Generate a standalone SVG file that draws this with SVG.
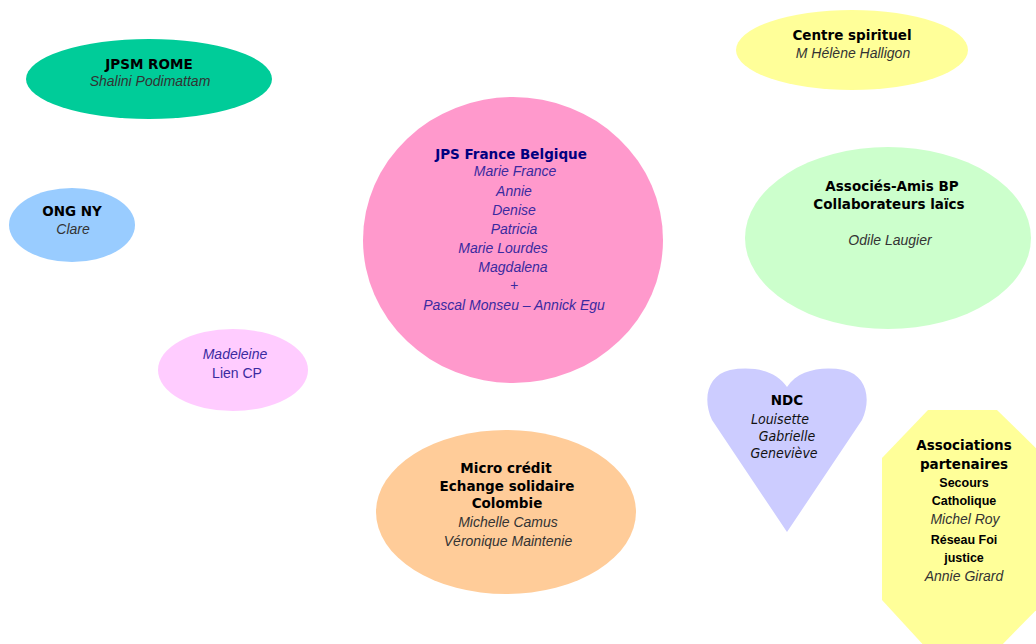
<svg xmlns="http://www.w3.org/2000/svg" width="1036" height="644" viewBox="0 0 1036 644">
<style>
text{text-anchor:middle;font-size:14px}
.b{font-family:"DejaVu Sans","Liberation Sans",sans-serif;font-weight:bold;font-size:13.5px;fill:#000}
.i{font-family:"Liberation Sans",sans-serif;font-style:italic;fill:#333}
.p{fill:#3a2aa0}
.h{font-family:"Liberation Sans",sans-serif;font-weight:bold;font-size:12.5px;fill:#000}
.k{font-family:"DejaVu Sans Condensed","Liberation Sans",sans-serif;font-style:italic;fill:#111;font-size:14px}
</style>
<rect width="1036" height="644" fill="#fff"/>
<g id="connectors"></g>
<g id="jpsm-rome">
<ellipse cx="149" cy="79" rx="123" ry="40" fill="#00CC99"/>
<text class="b" x="149" y="69">JPSM ROME</text>
<text class="i" x="150" y="86">Shalini Podimattam</text>
</g>
<g id="centre-spirituel">
<ellipse cx="852" cy="50" rx="116" ry="40" fill="#FFFF99"/>
<text class="b" x="852" y="40">Centre spirituel</text>
<text class="i" x="853" y="58">M Hélène Halligon</text>
</g>
<g id="ong-ny">
<ellipse cx="72" cy="225" rx="63" ry="37" fill="#99CCFF"/>
<text class="b" x="72" y="216">ONG NY</text>
<text class="i" x="73" y="234">Clare</text>
</g>
<g id="jps-france-belgique">
<ellipse cx="513" cy="240" rx="150" ry="143" fill="#FF99CC"/>
<text class="b" x="511" y="159" style="fill:#000080">JPS France Belgique</text>
<text class="i p" x="515" y="176">Marie France</text>
<text class="i p" x="514" y="196">Annie</text>
<text class="i p" x="514" y="215">Denise</text>
<text class="i p" x="514" y="234">Patricia</text>
<text class="i p" x="503" y="253">Marie Lourdes</text>
<text class="i p" x="513" y="272">Magdalena</text>
<text class="i p" x="514" y="290">+</text>
<text class="i p" x="514" y="310">Pascal Monseu – Annick Egu</text>
</g>
<g id="associes-amis">
<ellipse cx="888" cy="238" rx="143" ry="91" fill="#CCFFCC"/>
<text class="b" x="892" y="191">Associés-Amis BP</text>
<text class="b" x="889" y="209">Collaborateurs laïcs</text>
<text class="i" x="890" y="245">Odile Laugier</text>
</g>
<g id="madeleine">
<ellipse cx="233" cy="370" rx="75" ry="41" fill="#FFCCFF"/>
<text class="i p" x="235" y="359">Madeleine</text>
<text x="237" y="378" style="font-family:'Liberation Sans',sans-serif;fill:#3a2aa0">Lien CP</text>
</g>
<g id="micro-credit">
<ellipse cx="506" cy="512" rx="130" ry="82" fill="#FFCC99"/>
<text class="b" x="506" y="473">Micro crédit</text>
<text class="b" x="507" y="491">Echange solidaire</text>
<text class="b" x="507" y="508">Colombie</text>
<text class="i" x="508" y="527">Michelle Camus</text>
<text class="i" x="508" y="546">Véronique Maintenie</text>
</g>
<g id="ndc">
<path d="M787,387 C776,370 752,366 730,370 C708,375 702,398 712,420 L787,532 L862,420 C872,398 866,375 844,370 C822,366 798,370 787,387 Z" fill="#CCCCFF"/>
<text class="b" x="787" y="405">NDC</text>
<text class="k" x="780" y="424">Louisette</text>
<text class="k" x="787" y="441">Gabrielle</text>
<text class="k" x="784" y="458">Geneviève</text>
</g>
<g id="associations-partenaires">
<polygon points="928,410 997,410 1046,458 1046,600 997,650 928,650 882,600 882,458" fill="#FFFF99"/>
<text class="b" x="964" y="450">Associations</text>
<text class="b" x="964" y="469">partenaires</text>
<text class="h" x="964" y="487">Secours</text>
<text class="h" x="964" y="505">Catholique</text>
<text class="i" x="965" y="524">Michel Roy</text>
<text class="h" x="964" y="544">Réseau Foi</text>
<text class="h" x="964" y="562">justice</text>
<text class="i" x="964" y="581">Annie Girard</text>
</g>
</svg>
